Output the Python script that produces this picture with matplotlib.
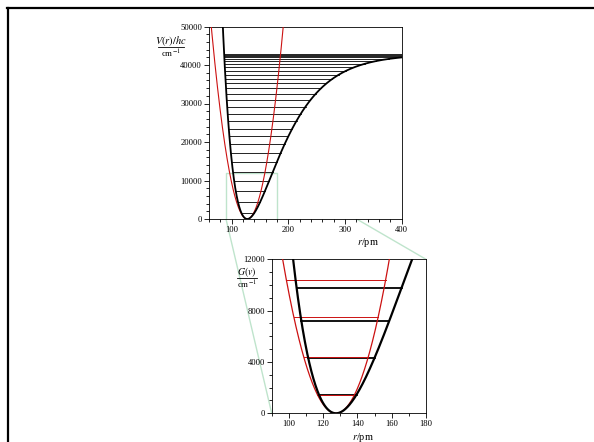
import numpy as np
import matplotlib
matplotlib.use("Agg")
import matplotlib.pyplot as plt
from matplotlib.lines import Line2D
from matplotlib.patches import ConnectionPatch
from matplotlib.ticker import MultipleLocator

plt.rcParams['font.family'] = ['Liberation Serif', 'DejaVu Serif']
plt.rcParams['mathtext.fontset'] = 'stix'

# Morse potential (r in pm, energies in cm^-1)
r_e = 127.5
D_e = 42800.0
a_morse = 0.0170          # 1/pm
k_half = 12.4             # harmonic curvature, cm^-1 / pm^2

# vibrational levels G(v)
morse_levels = [1450, 4340, 7170, 9790, 12300, 14700, 17100, 19400, 21500,
                23500, 25500, 27400, 29200, 30900, 32500, 33900, 35200, 36400,
                37500, 38500, 39400, 40300, 41000, 41600, 42100, 42450, 42650,
                42800]
harm_levels = [1450, 4420, 7480, 10420]

# zoom window shown in the lower plot
zoom_r = [90, 180]
zoom_G = [0, 12000]

green = '#bfe4cc'
red = '#cc1111'


def morse(r):
    return D_e * (1 - np.exp(-a_morse * (r - r_e))) ** 2


def morse_turn(E, rmax):
    s = np.sqrt(E / D_e)
    left = r_e - np.log(1 + s) / a_morse
    right = rmax if s >= 1 else min(rmax, r_e - np.log(1 - s) / a_morse)
    return left, right


def style(ax):
    for sp in ax.spines.values():
        sp.set_linewidth(0.6)
    ax.tick_params(which='both', direction='out', width=0.6, labelsize=6.2, pad=1.5)
    ax.tick_params(which='major', length=3.5)
    ax.tick_params(which='minor', length=2.5)


fig = plt.figure(figsize=(5.94, 4.42), dpi=100)
W, H = 594.0, 442.0

# upper plot
ax1 = fig.add_axes([209 / W, 1 - 219 / H, 192.7 / W, 192.5 / H])
ax1.set_xlim(60, 400)
ax1.set_ylim(0, 50000)
r1 = np.linspace(60, 400, 800)
ax1.plot(r1, k_half * (r1 - r_e) ** 2, color=red, lw=0.8, zorder=3)
ax1.plot(r1, morse(r1), color='black', lw=1.3, zorder=4)
for E in morse_levels:
    lft, rgt = morse_turn(E, 400)
    ax1.plot([lft, rgt], [E, E], color='black', lw=0.6, zorder=2)
ax1.plot([zoom_r[0], zoom_r[0], zoom_r[1], zoom_r[1]],
         [zoom_G[0], zoom_G[1], zoom_G[1], zoom_G[0]], color=green, lw=1.0, zorder=1)
ax1.xaxis.set_major_locator(MultipleLocator(100))
ax1.xaxis.set_minor_locator(MultipleLocator(20))
ax1.yaxis.set_major_locator(MultipleLocator(10000))
ax1.yaxis.set_minor_locator(MultipleLocator(2000))
style(ax1)
ax1.text(340, -6200, '$r$/pm', ha='center', va='center', fontsize=7.5)
ax1.text(-0.197, 0.925, '$V(r)/hc$', transform=ax1.transAxes, ha='center',
         va='center', fontsize=7.5)
ax1.text(-0.197, 0.855, 'cm$^{-1}$', transform=ax1.transAxes, ha='center',
         va='center', fontsize=6.5)
ax1.add_line(Line2D([-0.265, -0.13], [0.892, 0.892], transform=ax1.transAxes,
                    color='black', lw=0.6, clip_on=False))

# lower (zoomed) plot
ax2 = fig.add_axes([271.7 / W, 1 - 413.3 / H, 154.3 / W, 154 / H])
ax2.set_xlim(zoom_r)
ax2.set_ylim(zoom_G)
r2 = np.linspace(90, 180, 600)
ax2.plot(r2, k_half * (r2 - r_e) ** 2, color=red, lw=0.9, zorder=3)
ax2.plot(r2, morse(r2), color='black', lw=1.6, zorder=4)
for E in harm_levels:
    d = np.sqrt(E / k_half)
    ax2.plot([r_e - d, r_e + d], [E, E], color=red, lw=0.7, zorder=3)
for E in morse_levels[:4]:
    lft, rgt = morse_turn(E, 180)
    ax2.plot([lft, rgt], [E, E], color='black', lw=1.3, zorder=2)
ax2.xaxis.set_major_locator(MultipleLocator(20))
ax2.xaxis.set_minor_locator(MultipleLocator(10))
ax2.yaxis.set_major_locator(MultipleLocator(4000))
ax2.yaxis.set_minor_locator(MultipleLocator(1000))
style(ax2)
ax2.text(143, -1850, '$r$/pm', ha='center', va='center', fontsize=7.5)
ax2.text(-0.16, 0.92, '$G(v)$', transform=ax2.transAxes, ha='center',
         va='center', fontsize=7)
ax2.text(-0.16, 0.833, 'cm$^{-1}$', transform=ax2.transAxes, ha='center',
         va='center', fontsize=6.5)
ax2.add_line(Line2D([-0.225, -0.095], [0.88, 0.88], transform=ax2.transAxes,
                    color='black', lw=0.6, clip_on=False))

# connectors from the zoom box to the lower plot
for xy in [(zoom_r[1], zoom_G[1]), (zoom_r[0], zoom_G[0])]:
    con = ConnectionPatch(xyA=xy, coordsA=ax1.transData, xyB=xy,
                          coordsB=ax2.transData, color=green, lw=1.0, zorder=0)
    fig.add_artist(con)

# frame around the figure (top and left edges visible)
fig.add_artist(Line2D([7 / W, 593 / W], [1 - 8 / H, 1 - 8 / H],
                      transform=fig.transFigure, color='black', lw=1.6))
fig.add_artist(Line2D([8 / W, 8 / W], [1 - 8 / H, 0],
                      transform=fig.transFigure, color='black', lw=1.6))

fig.savefig('out.png', dpi=100)
